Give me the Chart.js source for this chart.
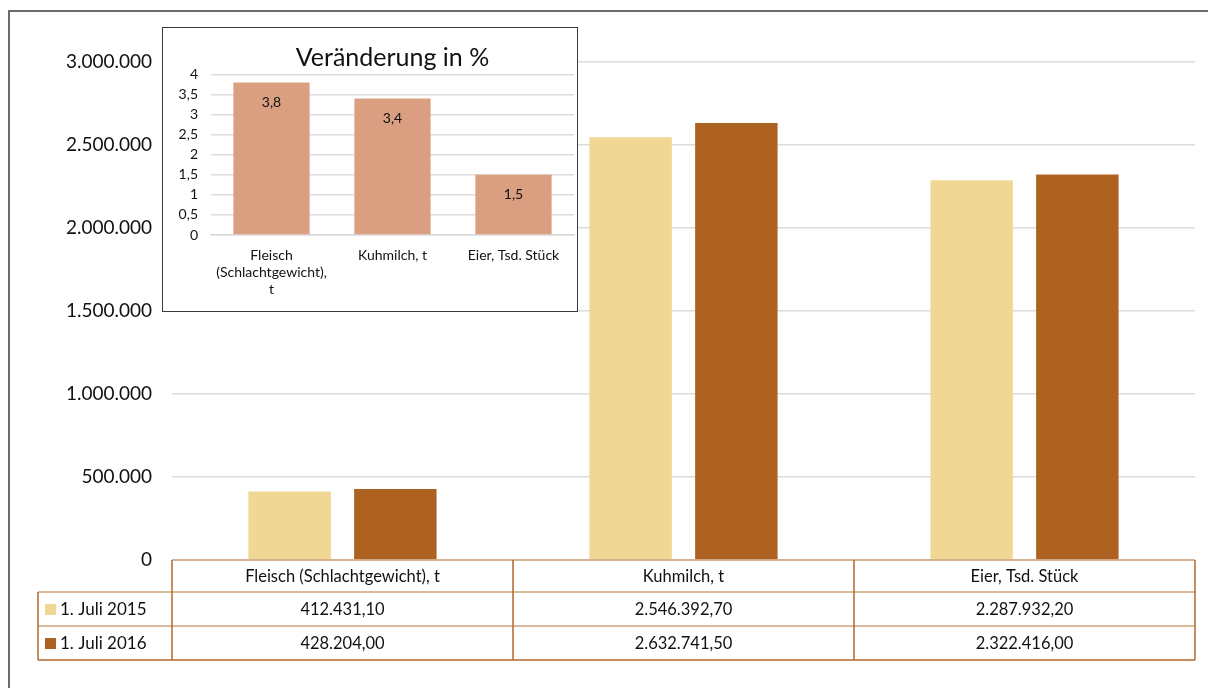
<!DOCTYPE html>
<html>
<head>
<meta charset="utf-8">
<script src="https://cdn.jsdelivr.net/npm/chart.js@4.4.1/dist/chart.umd.min.js"></script>
<style>
  body { margin: 0; background: #fff; }
  #frame { position: absolute; left: 8px; top: 10px; width: 1200px; height: 678px;
           border-left: 2px solid #6b6b6b; border-top: 2px solid #6b6b6b; box-sizing: border-box; }
  #mainWrap { position: absolute; left: 0; top: 0; width: 1208px; height: 688px; }
  #insetWrap { position: absolute; left: 162px; top: 27px; width: 416px; height: 285px;
               border: 1.5px solid #3a3a3a; background: #fff; box-sizing: border-box; }
  #insetWrap canvas { display: block; }
</style>
</head>
<body>
<div id="frame"></div>
<div id="mainWrap"><canvas id="mainChart" width="1208" height="688"></canvas></div>
<div id="insetWrap"><canvas id="insetChart" width="413" height="282"></canvas></div>
<script>
"use strict";

const categories = ['Fleisch (Schlachtgewicht), t', 'Kuhmilch, t', 'Eier, Tsd. Stück'];
const seriesLabels = ['1. Juli 2015', '1. Juli 2016'];
const values2015 = [412431.10, 2546392.70, 2287932.20];
const values2016 = [428204.00, 2632741.50, 2322416.00];
const yTicksMain = [0, 500000, 1000000, 1500000, 2000000, 2500000, 3000000];

const changeCategories = [['Fleisch', '(Schlachtgewicht),', 't'], 'Kuhmilch, t', 'Eier, Tsd. Stück'];
const changeValues = [3.8, 3.4, 1.5];

const color2015 = '#f0d894';
const color2016 = '#ad6221';
const FONT = 'Lato, "Noto Sans", sans-serif';

Chart.defaults.font.family = FONT;
Chart.defaults.color = '#111';

const fmtInt = v => v.toLocaleString('de-DE');
const fmtDec = v => v.toLocaleString('de-DE', { minimumFractionDigits: 2, maximumFractionDigits: 2 });

// draws the data table under the main chart
const dataTable = {
  id: 'dataTable',
  afterDraw(chart) {
    const ctx = chart.ctx;
    const area = chart.chartArea;
    const xs = chart.scales.x;
    const catW = (area.right - area.left) / categories.length;
    const top = area.bottom;
    const rowH = [32, 34, 34];
    const y1 = top + rowH[0], y2 = y1 + rowH[1], y3 = y2 + rowH[2];
    const legLeft = 38;

    ctx.save();
    ctx.lineWidth = 1.5;
    // horizontal lines
    ctx.strokeStyle = '#cfa27a';
    ctx.beginPath();
    ctx.moveTo(area.left, top); ctx.lineTo(area.right, top);
    ctx.moveTo(legLeft, y1); ctx.lineTo(area.right, y1);
    ctx.moveTo(legLeft, y2); ctx.lineTo(area.right, y2);
    ctx.stroke();
    ctx.strokeStyle = '#b36a2c';
    ctx.beginPath();
    ctx.moveTo(legLeft, y3); ctx.lineTo(area.right, y3);
    // vertical lines
    ctx.moveTo(legLeft, y1); ctx.lineTo(legLeft, y3);
    for (let i = 0; i <= categories.length; i++) {
      const x = area.left + i * catW;
      ctx.moveTo(x, top); ctx.lineTo(x, y3);
    }
    ctx.stroke();

    ctx.fillStyle = '#111';
    ctx.font = '16.5px ' + FONT;
    ctx.textAlign = 'center';
    ctx.textBaseline = 'middle';
    categories.forEach((c, i) => {
      const cx = xs.getPixelForValue(i);
      ctx.fillText(c, cx, top + rowH[0] / 2 + 1);
      ctx.fillText(fmtDec(values2015[i]), cx, y1 + rowH[1] / 2 + 1);
      ctx.fillText(fmtDec(values2016[i]), cx, y2 + rowH[2] / 2 + 1);
    });

    // legend keys
    ctx.textAlign = 'left';
    ctx.font = '17px ' + FONT;
    [color2015, color2016].forEach((col, k) => {
      const yy = k === 0 ? y1 + rowH[1] / 2 : y2 + rowH[2] / 2;
      ctx.fillStyle = col;
      ctx.fillRect(45, yy - 5, 11, 11);
      ctx.fillStyle = '#111';
      ctx.fillText(seriesLabels[k], 60, yy + 1);
    });
    ctx.restore();
  }
};

new Chart(document.getElementById('mainChart'), {
  type: 'bar',
  data: {
    labels: categories,
    datasets: [
      { label: seriesLabels[0], data: values2015, backgroundColor: color2015,
        categoryPercentage: 0.62, barPercentage: 0.78 },
      { label: seriesLabels[1], data: values2016, backgroundColor: color2016,
        categoryPercentage: 0.62, barPercentage: 0.78 }
    ]
  },
  options: {
    responsive: false,
    animation: false,
    layout: { padding: { top: 62, right: 13, bottom: 128, left: 0 } },
    plugins: { legend: { display: false }, tooltip: { enabled: false } },
    scales: {
      x: { display: false },
      y: {
        min: 0, max: 3000000,
        afterBuildTicks: s => { s.ticks = yTicksMain.map(v => ({ value: v })); },
        afterFit: s => { s.width = 172; },
        ticks: { padding: 20, font: { size: 19 }, color: '#111', callback: v => fmtInt(v) },
        grid: { color: '#dcdcdc', lineWidth: 1.5, drawTicks: false },
        border: { display: false }
      }
    }
  },
  plugins: [dataTable]
});

// value labels inside the inset bars
const barValues = {
  id: 'barValues',
  afterDatasetsDraw(chart) {
    const ctx = chart.ctx;
    const meta = chart.getDatasetMeta(0);
    ctx.save();
    ctx.fillStyle = '#111';
    ctx.font = '14px ' + FONT;
    ctx.textAlign = 'center';
    ctx.textBaseline = 'middle';
    meta.data.forEach((bar, i) => {
      ctx.fillText(changeValues[i].toLocaleString('de-DE'), bar.x, bar.y + 20);
    });
    ctx.restore();
  }
};

new Chart(document.getElementById('insetChart'), {
  type: 'bar',
  data: {
    labels: changeCategories,
    datasets: [{ label: 'Veränderung in %', data: changeValues, backgroundColor: '#d99f80',
                 categoryPercentage: 0.63, barPercentage: 1 }]
  },
  options: {
    responsive: false,
    animation: false,
    layout: { padding: { top: 0, right: 2, bottom: 0, left: 0 } },
    plugins: {
      legend: { display: false },
      tooltip: { enabled: false },
      title: { display: true, fullSize: false, text: 'Veränderung in %', color: '#111',
               font: { size: 25, weight: 'normal', lineHeight: 1.1 }, padding: { top: 16, bottom: 3 } }
    },
    scales: {
      x: {
        afterFit: s => { s.height = 75; },
        ticks: { font: { size: 14, lineHeight: 1.2 }, color: '#111', padding: 4, maxRotation: 0, autoSkip: false },
        grid: { display: false },
        border: { color: '#d9d9d9', width: 1.5 }
      },
      y: {
        min: 0, max: 4,
        ticks: { stepSize: 0.5, padding: 13, font: { size: 14 }, color: '#111',
                 callback: v => v.toLocaleString('de-DE') },
        afterFit: s => { s.width = 48; },
        grid: { color: '#dcdcdc', lineWidth: 1.5, drawTicks: false },
        border: { display: false }
      }
    }
  },
  plugins: [barValues]
});
</script>
</body>
</html>
